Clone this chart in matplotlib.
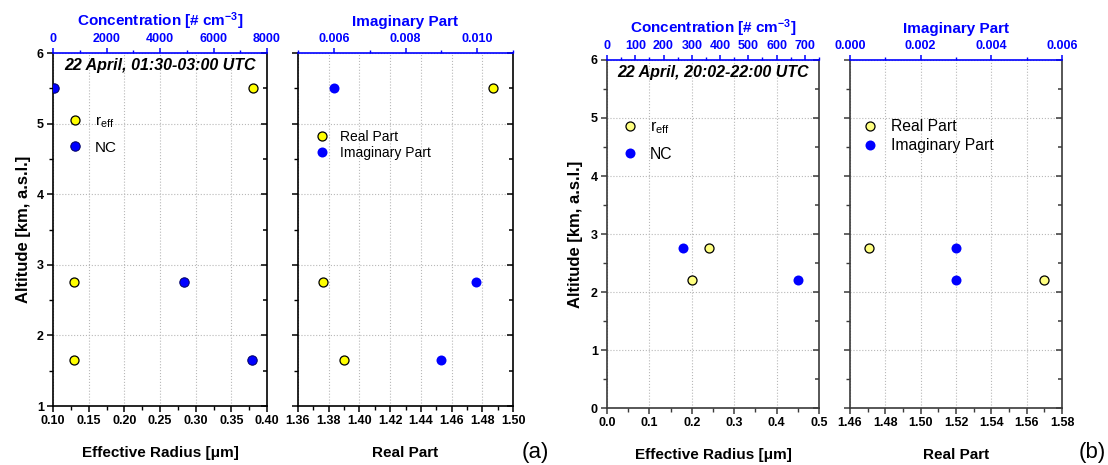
import numpy as np
import matplotlib
matplotlib.use('Agg')
import matplotlib.pyplot as plt
from matplotlib.ticker import MultipleLocator, FormatStrFormatter

plt.rcParams['font.family'] = ['Liberation Sans', 'DejaVu Sans']
plt.rcParams['font.weight'] = 'bold'
plt.rcParams['axes.labelweight'] = 'bold'
plt.rcParams['mathtext.default'] = 'regular'

# (a) 22 April, 01:30-03:00 UTC
a_alt = [5.5, 2.75, 1.65]
a_reff = [0.38, 0.13, 0.13]
a_nc = [50, 4900, 7430]
a_real = [1.487, 1.376, 1.39]
a_imag = [0.006, 0.00997, 0.009]

# (b) 22 April, 20:02-22:00 UTC
b_alt = [2.75, 2.2]
b_reff = [0.24, 0.20]
b_nc = [268, 677]
b_real = [1.471, 1.57]
b_imag = [0.003, 0.003]

BLUE = '#0000FF'
W, H = 1108, 465


def make_panel(px, xlim, xstep, xfmt, tlim, tstep, tfmt, ylim, spine_col, ylabels=True):
    l, r, t, b = px
    ax = fig.add_axes([l / W, 1 - b / H, (r - l) / W, (b - t) / H])
    top = ax.twiny()
    ax.set_xlim(*xlim)
    ax.set_ylim(*ylim)
    top.set_xlim(*tlim)

    ax.xaxis.set_major_locator(MultipleLocator(xstep))
    ax.xaxis.set_minor_locator(MultipleLocator(xstep / 2))
    ax.xaxis.set_major_formatter(FormatStrFormatter(xfmt))
    ax.yaxis.set_major_locator(MultipleLocator(1))
    ax.yaxis.set_minor_locator(MultipleLocator(0.5))
    ax.yaxis.set_major_formatter(FormatStrFormatter('%d'))
    top.xaxis.set_major_locator(MultipleLocator(tstep))
    top.xaxis.set_minor_locator(MultipleLocator(tstep / 2))
    top.xaxis.set_major_formatter(FormatStrFormatter(tfmt))

    for s in ['left', 'right', 'bottom']:
        ax.spines[s].set_color(spine_col)
        ax.spines[s].set_linewidth(1.2)
        top.spines[s].set_visible(False)
    ax.spines['top'].set_visible(False)
    top.spines['top'].set_color(BLUE)
    top.spines['top'].set_linewidth(1.2)

    ax.tick_params(axis='x', which='both', bottom=True, top=False, direction='out',
                   color=spine_col, labelsize=9, pad=2)
    ax.tick_params(axis='y', which='both', left=True, right=False, direction='out',
                   color=spine_col, labelsize=9, labelleft=ylabels, pad=2)
    ax.tick_params(which='major', length=4.5, width=1.1)
    ax.tick_params(which='minor', length=3, width=1.0)
    top.yaxis.set_visible(True)
    top.tick_params(axis='y', which='both', left=False, right=True, labelleft=False,
                    labelright=False, direction='in', color=spine_col, width=1.1)
    top.tick_params(axis='y', which='major', length=4.5)
    top.tick_params(axis='y', which='minor', length=3)
    top.tick_params(axis='x', which='both', top=True, bottom=False, direction='out',
                    color=BLUE, labelcolor=BLUE, labelsize=9, pad=2)
    top.tick_params(axis='x', which='major', length=3.5, width=1.1)
    top.tick_params(axis='x', which='minor', length=2.5, width=1.0)

    ax.grid(True, which='major', linestyle=':', color='#b8b8b8', linewidth=0.8)
    ax.set_axisbelow(True)
    return ax, top


def add_legend(ax, handles, labels, x, y, size, spacing):
    ax.legend(handles, labels, loc='upper left', bbox_to_anchor=(x, y), frameon=False,
              prop={'size': size, 'weight': 'normal'}, handlelength=0.8,
              handletextpad=0.9, borderpad=0, borderaxespad=0,
              labelspacing=spacing, numpoints=1)


fig = plt.figure(figsize=(W / 100, H / 100), dpi=100)

# ---- (a) effective radius / number concentration
ax1, t1 = make_panel((53, 267, 53, 406), (0.10, 0.40), 0.05, '%.2f',
                     (0, 8000), 2000, '%d', (1, 6), 'black')
h1, = ax1.plot(a_reff, a_alt, 'o', ms=6.5, mfc='#FFFF00', mec='black', mew=0.9)
h2, = t1.plot(a_nc, a_alt, 'o', ms=6.8, mfc=BLUE, mec='#000060', mew=0.7)
ax1.set_xlabel('Effective Radius [μm]', fontsize=11, fontweight='bold', labelpad=14)
ax1.set_ylabel('Altitude [km, a.s.l.]', fontsize=12, fontweight='bold', labelpad=4)
t1.set_xlabel('Concentration [# cm$^{-3}$]', fontsize=11, fontweight='bold',
              color=BLUE, labelpad=5)
t1.text(0.5, 0.966, '22 April, 01:30-03:00 UTC', transform=t1.transAxes, ha='center',
        va='center', fontsize=11.5, fontweight='bold', fontstyle='italic')
add_legend(t1, [h1, h2], ['r$_{eff}$', 'NC'], 0.075, 0.826, 11, 0.7)

# ---- (a) refractive index
ax2, t2 = make_panel((298, 513, 53, 406), (1.36, 1.50), 0.02, '%.2f',
                     (0.005, 0.011), 0.002, '%.3f', (1, 6), 'black', ylabels=False)
h3, = ax2.plot(a_real, a_alt, 'o', ms=6.5, mfc='#FFFF00', mec='black', mew=0.9)
h4, = t2.plot(a_imag, a_alt, 'o', ms=7.2, mfc=BLUE, mec=BLUE, mew=0)
ax2.set_xlabel('Real Part', fontsize=11, fontweight='bold', labelpad=14)
t2.set_xlabel('Imaginary Part', fontsize=11, fontweight='bold', color=BLUE, labelpad=5)
add_legend(t2, [h3, h4], ['Real Part', 'Imaginary Part'], 0.084, 0.783, 10, 0.15)

# ---- (b) effective radius / number concentration
ax3, t3 = make_panel((607, 819, 60, 408), (0.0, 0.5), 0.1, '%.1f',
                     (0, 750), 100, '%d', (0, 6), '#3a3a3a')
h5, = ax3.plot(b_reff, b_alt, 'o', ms=6.5, mfc='#FFFF80', mec='black', mew=0.9)
h6, = t3.plot(b_nc, b_alt, 'o', ms=7.2, mfc=BLUE, mec=BLUE, mew=0)
ax3.set_xlabel('Effective Radius [μm]', fontsize=11, fontweight='bold', labelpad=14)
ax3.set_ylabel('Altitude [km, a.s.l.]', fontsize=12, fontweight='bold', labelpad=6)
t3.set_xlabel('Concentration [# cm$^{-3}$]', fontsize=11, fontweight='bold',
              color=BLUE, labelpad=5)
t3.text(0.5, 0.963, '22 April, 20:02-22:00 UTC', transform=t3.transAxes, ha='center',
        va='center', fontsize=11.5, fontweight='bold', fontstyle='italic')
add_legend(t3, [h5, h6], ['r$_{eff}$', 'NC'], 0.077, 0.83, 11.3, 0.7)

# ---- (b) refractive index
ax4, t4 = make_panel((850, 1062, 60, 408), (1.46, 1.58), 0.02, '%.2f',
                     (0.0, 0.006), 0.002, '%.3f', (0, 6), '#3a3a3a', ylabels=False)
h7, = ax4.plot(b_real, b_alt, 'o', ms=6.5, mfc='#FFFF80', mec='black', mew=0.9)
h8, = t4.plot(b_imag, b_alt, 'o', ms=7.2, mfc=BLUE, mec=BLUE, mew=0)
ax4.set_xlabel('Real Part', fontsize=11, fontweight='bold', labelpad=14)
t4.set_xlabel('Imaginary Part', fontsize=11, fontweight='bold', color=BLUE, labelpad=5)
add_legend(t4, [h7, h8], ['Real Part', 'Imaginary Part'], 0.066, 0.83, 11.3, 0.25)

fig.text(535 / W, 1 - 452 / H, '(a)', fontsize=16, fontweight='normal', ha='center', va='center')
fig.text(1092 / W, 1 - 452 / H, '(b)', fontsize=16, fontweight='normal', ha='center', va='center')

fig.savefig('out.png', dpi=100)
